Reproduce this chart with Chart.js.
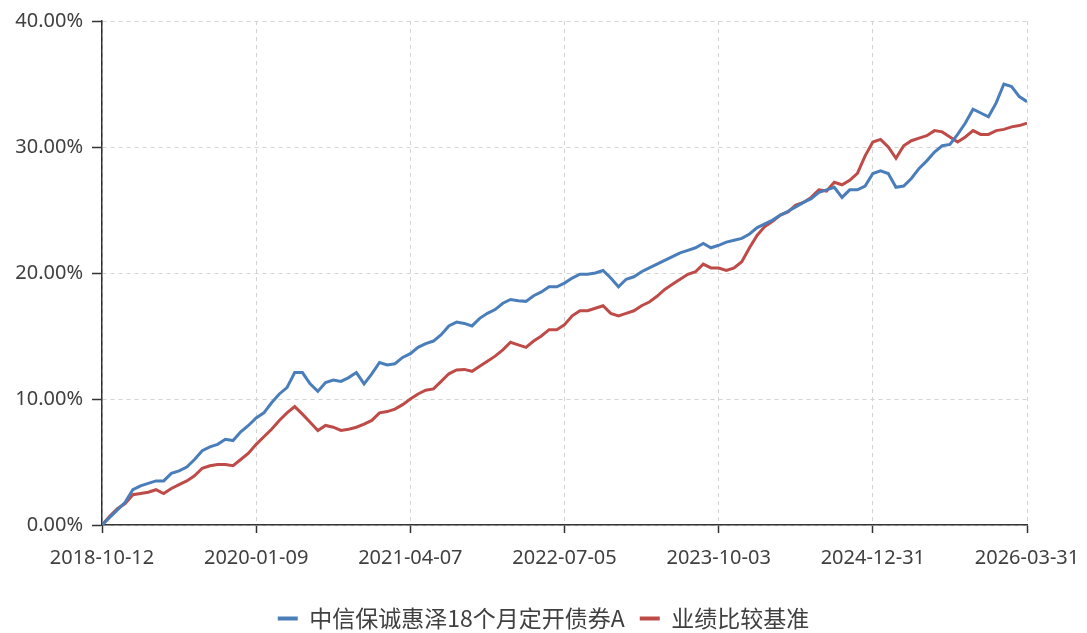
<head>
  <style>
    html,
    body {
      margin: 0;
      height: 100%;
      overflow: hidden;
      background: #fff;
    }
  </style>
</head>
<body>
  <div style="position: relative; width: 1087px; height: 640px">
    <canvas id="chart1"></canvas>
  </div>
</body>
<script src="https://cdn.jsdelivr.net/npm/chart.js@4/dist/chart.umd.min.js"></script>
<script>
  const tickLabels = [
    '2018-10-12',
    '2020-01-09',
    '2021-04-07',
    '2022-07-05',
    '2023-10-03',
    '2024-12-31',
    '2026-03-31'
  ]
  const seriesNames = ['中信保诚惠泽18个月定开债券A', '业绩比较基准']

  // cumulative return (%), evenly spaced points
  const fundValues = [
    0, 0.6, 1.2, 1.8, 2.8, 3.1, 3.3, 3.5, 3.5, 4.1, 4.3, 4.6, 5.2, 5.9, 6.2, 6.4, 6.8, 6.7, 7.4, 7.9, 8.5,
    8.9, 9.7, 10.4, 10.9, 12.1, 12.1, 11.2, 10.6, 11.3, 11.5, 11.4, 11.7, 12.1, 11.2, 12.0, 12.9, 12.7, 12.8, 13.3, 13.6,
    14.1, 14.4, 14.6, 15.1, 15.8, 16.1, 16.0, 15.8, 16.4, 16.8, 17.1, 17.6, 17.9, 17.8, 17.75, 18.2, 18.5, 18.9, 18.9, 19.2,
    19.6, 19.9, 19.9, 20.0, 20.2, 19.6, 18.9, 19.5, 19.7, 20.1, 20.4, 20.7, 21.0, 21.3, 21.6, 21.8, 22.0, 22.35, 22.0, 22.2,
    22.45, 22.6, 22.75, 23.1, 23.6, 23.9, 24.2, 24.6, 24.9, 25.25, 25.6, 25.9, 26.4, 26.6, 26.8, 26.0, 26.6, 26.6, 26.9, 27.9,
    28.1, 27.9, 26.8, 26.9, 27.5, 28.3, 28.9, 29.6, 30.1, 30.2, 31.0, 31.9, 33.0, 32.7, 32.4, 33.5, 35.0, 34.8, 34.0, 33.6
  ]
  const benchValues = [
    0, 0.7, 1.3, 1.7, 2.4, 2.5, 2.6, 2.8, 2.5, 2.9, 3.2, 3.5, 3.9, 4.5, 4.7, 4.8, 4.8, 4.7, 5.2, 5.7, 6.4,
    7.0, 7.6, 8.3, 8.9, 9.4, 8.8, 8.15, 7.5, 7.9, 7.76, 7.5, 7.6, 7.76, 8.0, 8.3, 8.9, 9.0, 9.2, 9.55, 10.0,
    10.4, 10.7, 10.8, 11.4, 12.0, 12.3, 12.35, 12.2, 12.6, 13.0, 13.4, 13.9, 14.5, 14.3, 14.1, 14.6, 15.0, 15.5, 15.5, 15.9,
    16.6, 17.0, 17.0, 17.2, 17.4, 16.8, 16.6, 16.8, 17.0, 17.4, 17.7, 18.15, 18.7, 19.1, 19.5, 19.9, 20.1, 20.7, 20.4, 20.4,
    20.2, 20.4, 20.9, 22.0, 23.0, 23.7, 24.1, 24.6, 24.85, 25.4, 25.6, 26.0, 26.6, 26.5, 27.2, 27.0, 27.35, 27.9, 29.3, 30.4,
    30.6, 30.0, 29.1, 30.1, 30.5, 30.7, 30.9, 31.3, 31.2, 30.8, 30.4, 30.8, 31.3, 31.0, 31.0, 31.3, 31.4, 31.6, 31.7, 31.9
  ]
  const pointsPerTick = 20

  const textColor = '#404040'
  const axisFont = { family: '"Noto Sans", sans-serif', size: 20 }

  new Chart(document.getElementById('chart1'), {
    type: 'line',
    data: {
      labels: fundValues.map((v, i) => i),
      datasets: [
        {
          label: seriesNames[0],
          data: fundValues,
          borderColor: '#4a7ebb',
          backgroundColor: '#4a7ebb',
          borderWidth: 3,
          pointRadius: 0,
          tension: 0
        },
        {
          label: seriesNames[1],
          data: benchValues,
          borderColor: '#be4b48',
          backgroundColor: '#be4b48',
          borderWidth: 3,
          pointRadius: 0,
          tension: 0
        }
      ]
    },
    options: {
      responsive: true,
      maintainAspectRatio: false,
      animation: false,
      layout: {
        padding: { top: 18, right: 0, left: 0, bottom: 0 }
      },
      plugins: {
        tooltip: { enabled: false },
        legend: {
          position: 'bottom',
          labels: {
            color: textColor,
            font: { family: '"Noto Sans CJK SC", sans-serif', size: 23 },
            boxWidth: 20,
            boxHeight: 4,
            padding: 15,
            generateLabels: chart =>
              Chart.defaults.plugins.legend.labels
                .generateLabels(chart)
                .map(l => ({ ...l, lineWidth: 0 }))
          }
        }
      },
      scales: {
        x: {
          type: 'linear',
          min: 0,
          max: fundValues.length - 1,
          afterFit: scale => {
            scale.height = 67
            scale.paddingLeft = 0
            scale.paddingRight = 60
          },
          grid: {
            color: '#d3d3d3',
            tickColor: '#333',
            tickBorderDash: [],
            tickLength: 8,
            tickWidth: 1.5
          },
          border: { color: '#333', width: 1.5, dash: [4, 4] },
          ticks: {
            stepSize: pointsPerTick,
            autoSkip: false,
            maxRotation: 0,
            padding: 13,
            color: textColor,
            font: axisFont,
            callback: v => tickLabels[v / pointsPerTick]
          }
        },
        y: {
          min: 0,
          max: 40,
          afterFit: scale => {
            scale.width = 102
          },
          grid: {
            color: '#d3d3d3',
            tickColor: '#333',
            tickBorderDash: [],
            tickLength: 10,
            tickWidth: 1.5
          },
          border: { color: '#333', width: 1.5, dash: [4, 4] },
          ticks: {
            stepSize: 10,
            padding: 9,
            color: textColor,
            font: axisFont,
            callback: v => v.toFixed(2) + '%'
          }
        }
      }
    }
  })
</script>
